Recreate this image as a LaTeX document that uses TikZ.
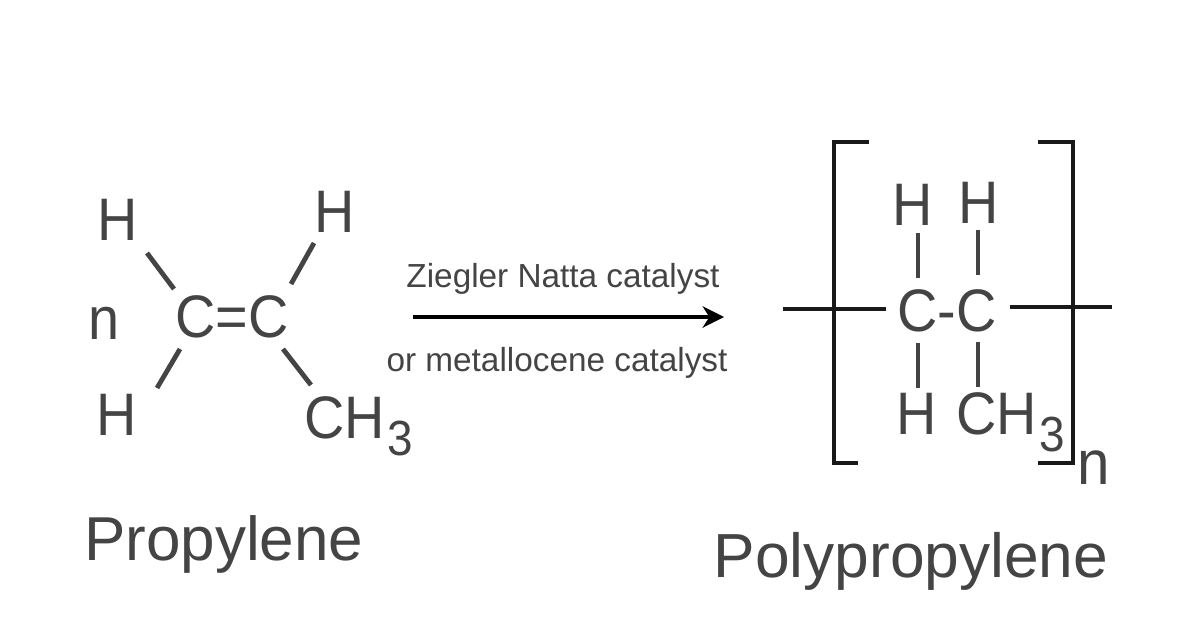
\documentclass[tikz,border=0pt]{standalone}
\usepackage{fontspec}
\setmainfont{Liberation Sans}
\newfontfamily\chemfont[FakeStretch=0.93]{Liberation Sans}
\usetikzlibrary{arrows.meta}
\definecolor{txt}{HTML}{444444}
\tikzset{
 lab/.style={inner sep=0pt,text=txt,font=\fontsize{#1}{#1}\selectfont},
 chem/.style={inner sep=0pt,text=txt,font=\chemfont\fontsize{#1}{#1}\selectfont},
 bond/.style={line width=3.6pt,draw=txt},
 brk/.style={line width=3pt,draw=black!90},
}
\newcommand{\sbthree}{\hspace{2pt}\raisebox{-0.28em}{\fontsize{37}{37}\selectfont 3}}
\begin{document}
\begin{tikzpicture}[x=1pt,y=-1pt,scale=0.75,every node/.append style={transform shape=false}]
\useasboundingbox (0,0) rectangle (1200,630);
\fill[white] (0,0) rectangle (1200,630);
\node[chem=45] (h1) at (118,220) {H};
\node[chem=45] (h2) at (335,212) {H};
\node[chem=45] (h3) at (117,415) {H};
\node[chem=45] (n1) at (104,323) {n};
\node[chem=45] (cc) at (232,317) {C=C};
\node[chem=45,anchor=west] (ch3) at (304,426) {CH\sbthree};
\node[lab=46.5,anchor=west] (prop) at (84,544) {Propylene};
\coordinate (a1) at (147,253); \coordinate (a2) at (174,289);
\coordinate (b1) at (314,243); \coordinate (b2) at (291,284);
\coordinate (c1) at (180,349); \coordinate (c2) at (157,388);
\coordinate (d1) at (283,349); \coordinate (d2) at (311,385);
\draw[bond] (a1)--(a2); \draw[bond] (b1)--(b2); \draw[bond] (c1)--(c2); \draw[bond] (d1)--(d2);
\node[lab=25] (z) at (563,279) {Ziegler Natta catalyst};
\node[lab=25] (m) at (557,363) {or metallocene catalyst};
\coordinate (r1) at (413,317); \coordinate (r2) at (724,317);
\draw[line width=3.5pt,draw=black,-{Stealth[length=16pt,width=16pt,inset=5pt]}] (r1)--(r2);
\node[chem=45] (ph1) at (913,205) {H};
\node[chem=45] (ph2) at (979,203) {H};
\node[chem=45] (cmc) at (947,311) {C-C};
\node[chem=45] (ph3) at (917,414) {H};
\node[chem=45,anchor=west] (pch) at (956,422) {CH\sbthree};
\node[chem=47] (pn) at (1094,468) {n};
\node[lab=46.7] (poly) at (911,561) {Polypropylene};
\coordinate (e1) at (918,233); \coordinate (e2) at (918,278);
\coordinate (f1) at (978,230); \coordinate (f2) at (978,275);
\coordinate (g1) at (918,343); \coordinate (g2) at (918,388);
\coordinate (k1) at (978,342); \coordinate (k2) at (978,387);
\draw[bond] (e1)--(e2); \draw[bond] (f1)--(f2); \draw[bond] (g1)--(g2); \draw[bond] (k1)--(k2);
\coordinate (l1) at (783,309); \coordinate (l2) at (886,309);
\coordinate (o1) at (1010,307); \coordinate (o2) at (1112,307);
\draw[brk] (l1)--(l2); \draw[brk] (o1)--(o2);
\coordinate (p1) at (869,142); \coordinate (p2) at (834,142); \coordinate (p3) at (834,463); \coordinate (p4) at (858,463);
\draw[brk] (p1)--(p2)--(p3)--(p4);
\coordinate (q1) at (1038,142); \coordinate (q2) at (1073,142); \coordinate (q3) at (1073,463); \coordinate (q4) at (1038,463);
\draw[brk] (q1)--(q2)--(q3)--(q4);
\end{tikzpicture}
\end{document}
